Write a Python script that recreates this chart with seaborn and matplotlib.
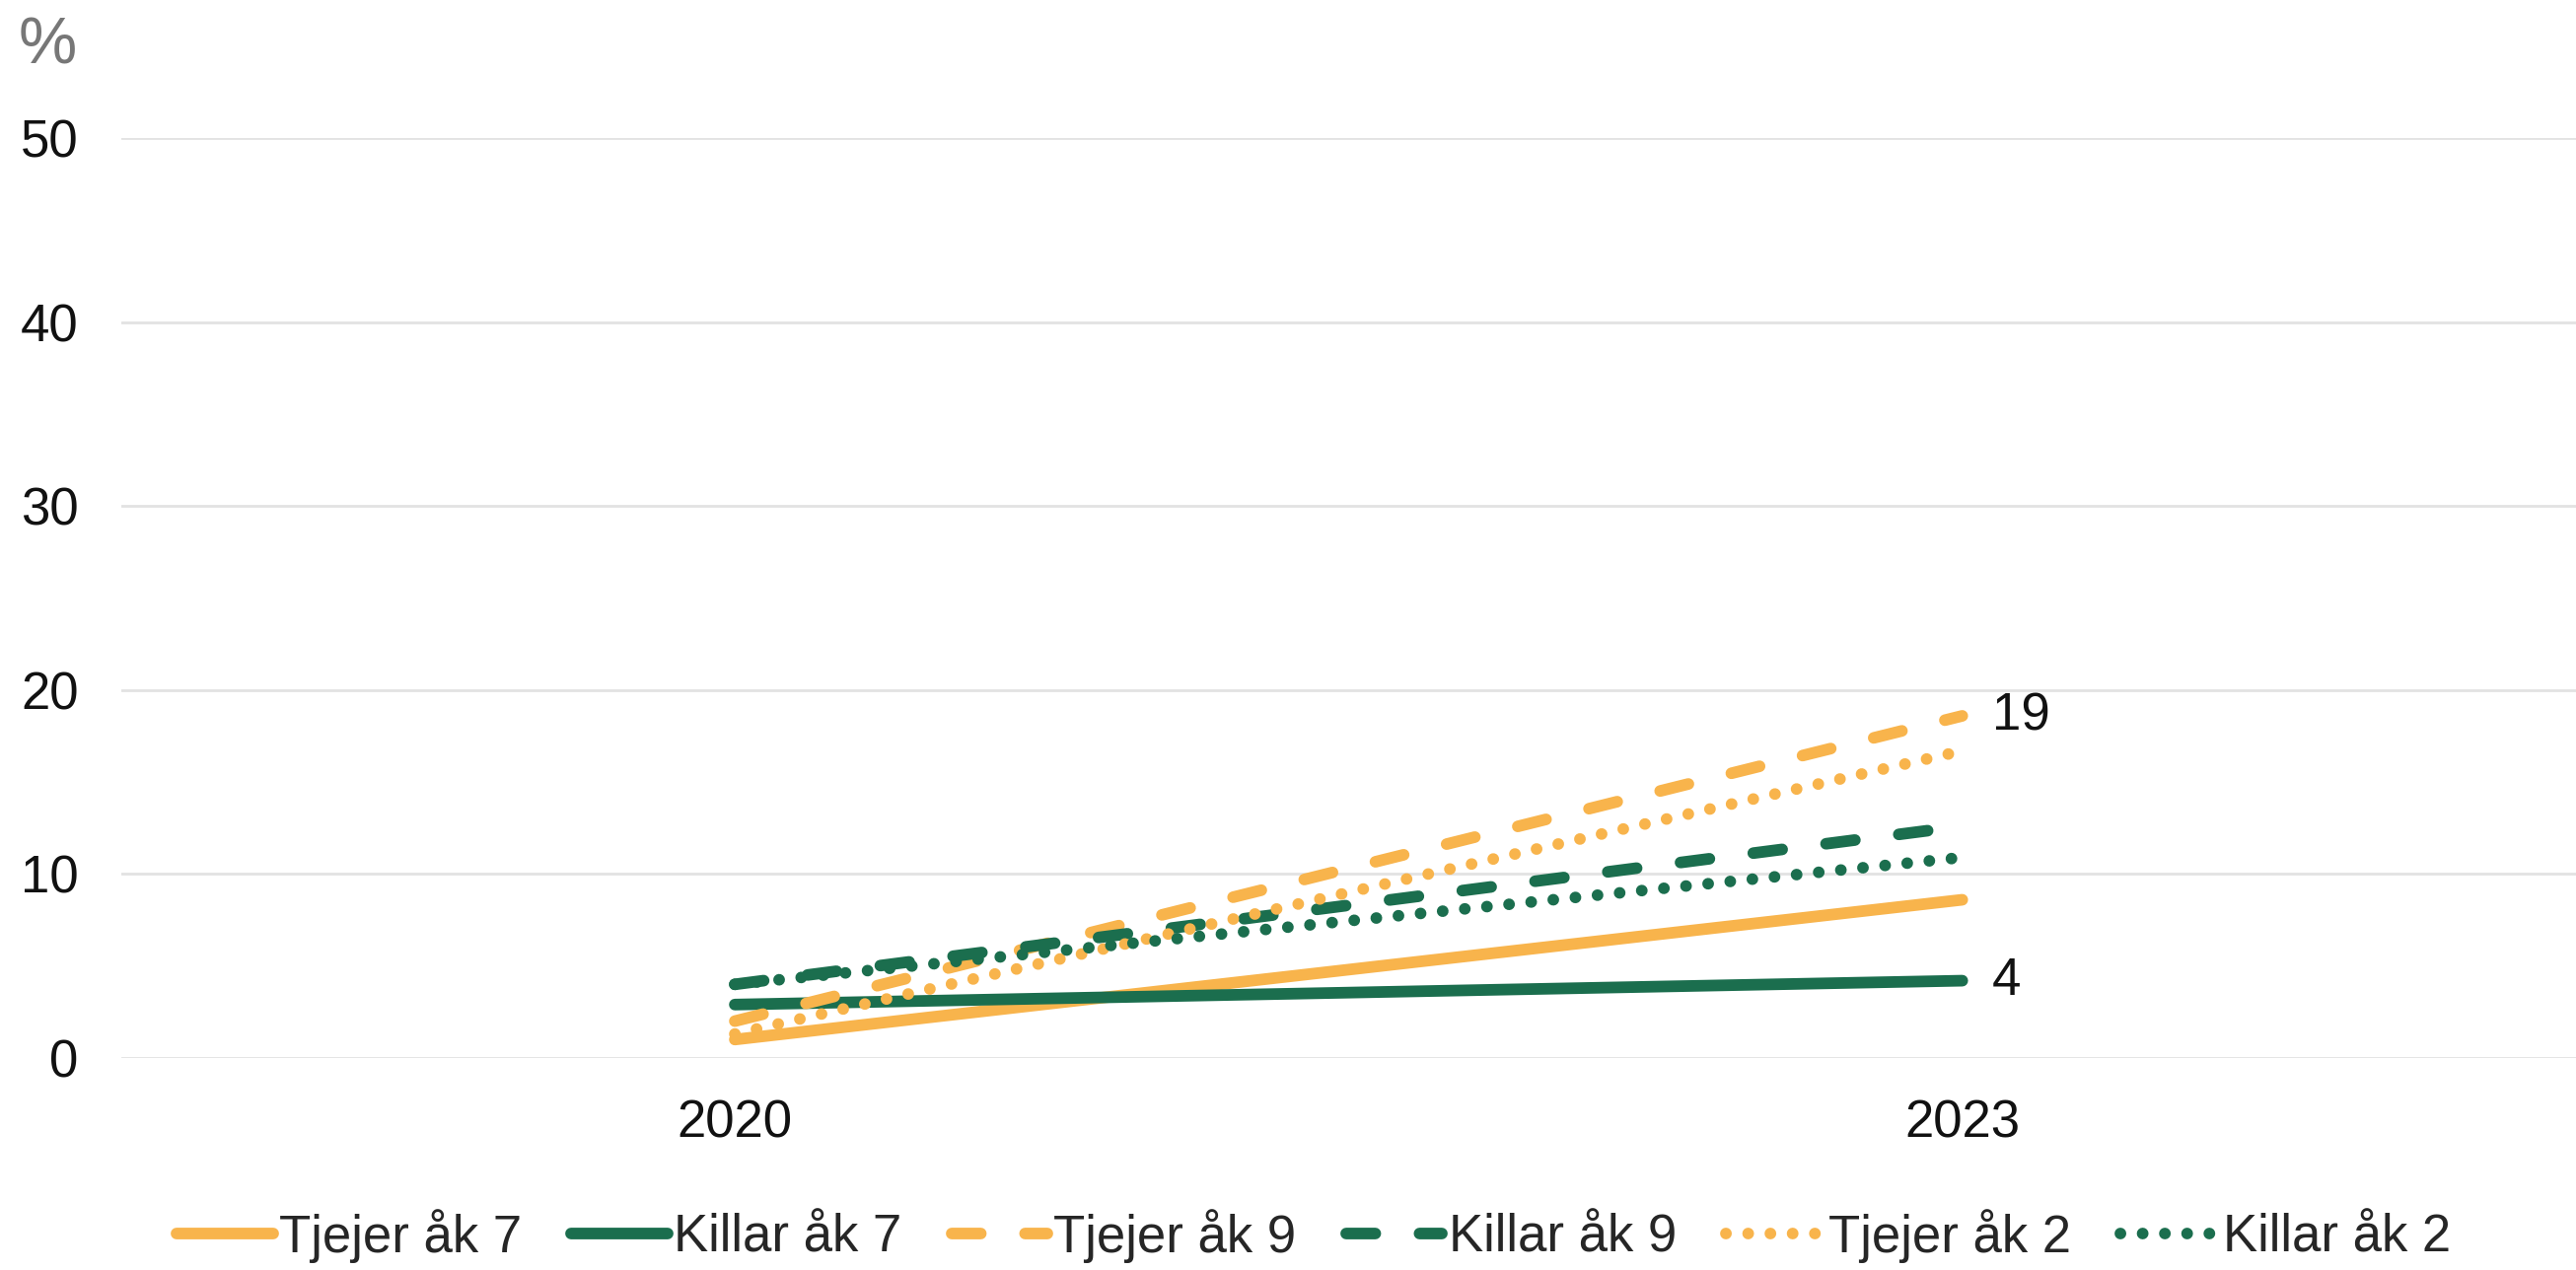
import numpy as np
import matplotlib.pyplot as plt
import seaborn as sns

# Data (percent)
years = ['2020', '2023']
series_names = ['Tjejer åk 7', 'Killar åk 7', 'Tjejer åk 9', 'Killar åk 9', 'Tjejer åk 2', 'Killar åk 2']
tjejer_ak7 = [1.0, 8.6]
killar_ak7 = [2.9, 4.2]
tjejer_ak9 = [2.0, 18.6]
killar_ak9 = [4.0, 12.6]
tjejer_ak2 = [1.3, 16.7]
killar_ak2 = [4.0, 10.9]
series_values = [tjejer_ak7, killar_ak7, tjejer_ak9, killar_ak9, tjejer_ak2, killar_ak2]
labelled = {'Tjejer åk 9': 19, 'Killar åk 7': 4}

orange = '#F8B44C'
green = '#1B6E4E'
colors = [orange, green, orange, green, orange, green]
solid = (None, None)
dashed = (2.5, 3.8)
dotted = (0.01, 1.9)
styles = [solid, solid, dashed, dashed, dotted, dotted]

sns.set_theme(style='white')
plt.rcParams['font.family'] = ['Liberation Sans', 'DejaVu Sans']

fig = plt.figure(figsize=(26.12, 12.88), dpi=100)
ax = fig.add_axes([0.047, 0.167, 0.953, 0.724])

for name, vals, c, st in zip(series_names, series_values, colors, styles):
    kws = dict(color=c, linewidth=8.5, solid_capstyle='round', dash_capstyle='round')
    if st[0] is not None:
        kws['dashes'] = st
    sns.lineplot(x=years, y=vals, ax=ax, label=name, legend=False, **kws)
    if name in labelled:
        ax.annotate(str(labelled[name]), xy=(1, vals[1]), xytext=(22, 0),
                    textcoords='offset points', ha='left', va='center',
                    fontsize=38, color='#111111')

ax.set_xlim(-0.5, 1.5)
ax.set_ylim(0, 50)
ax.set_yticks([0, 10, 20, 30, 40, 50])
ax.grid(axis='y', color='#E2E2E2', linewidth=2)
ax.grid(axis='x', visible=False)
sns.despine(ax=ax, left=True, bottom=True)
ax.tick_params(axis='y', length=0, pad=31, labelsize=38, labelcolor='#111111')
ax.tick_params(axis='x', length=0, pad=30, labelsize=38, labelcolor='#111111')
ax.set_xlabel('')
ax.set_ylabel('')

fig.text(0.007, 0.963, '%', fontsize=48, color='#777777', ha='left', va='center')

handles = ax.get_lines()[:len(series_names)]
fig.legend(handles, series_names, loc='center', bbox_to_anchor=(0.51, 0.027), ncol=6,
           frameon=False, fontsize=38, handlelength=1.85, handletextpad=0.12,
           columnspacing=0.95)

fig.savefig('out.png', dpi=100, facecolor='white')
